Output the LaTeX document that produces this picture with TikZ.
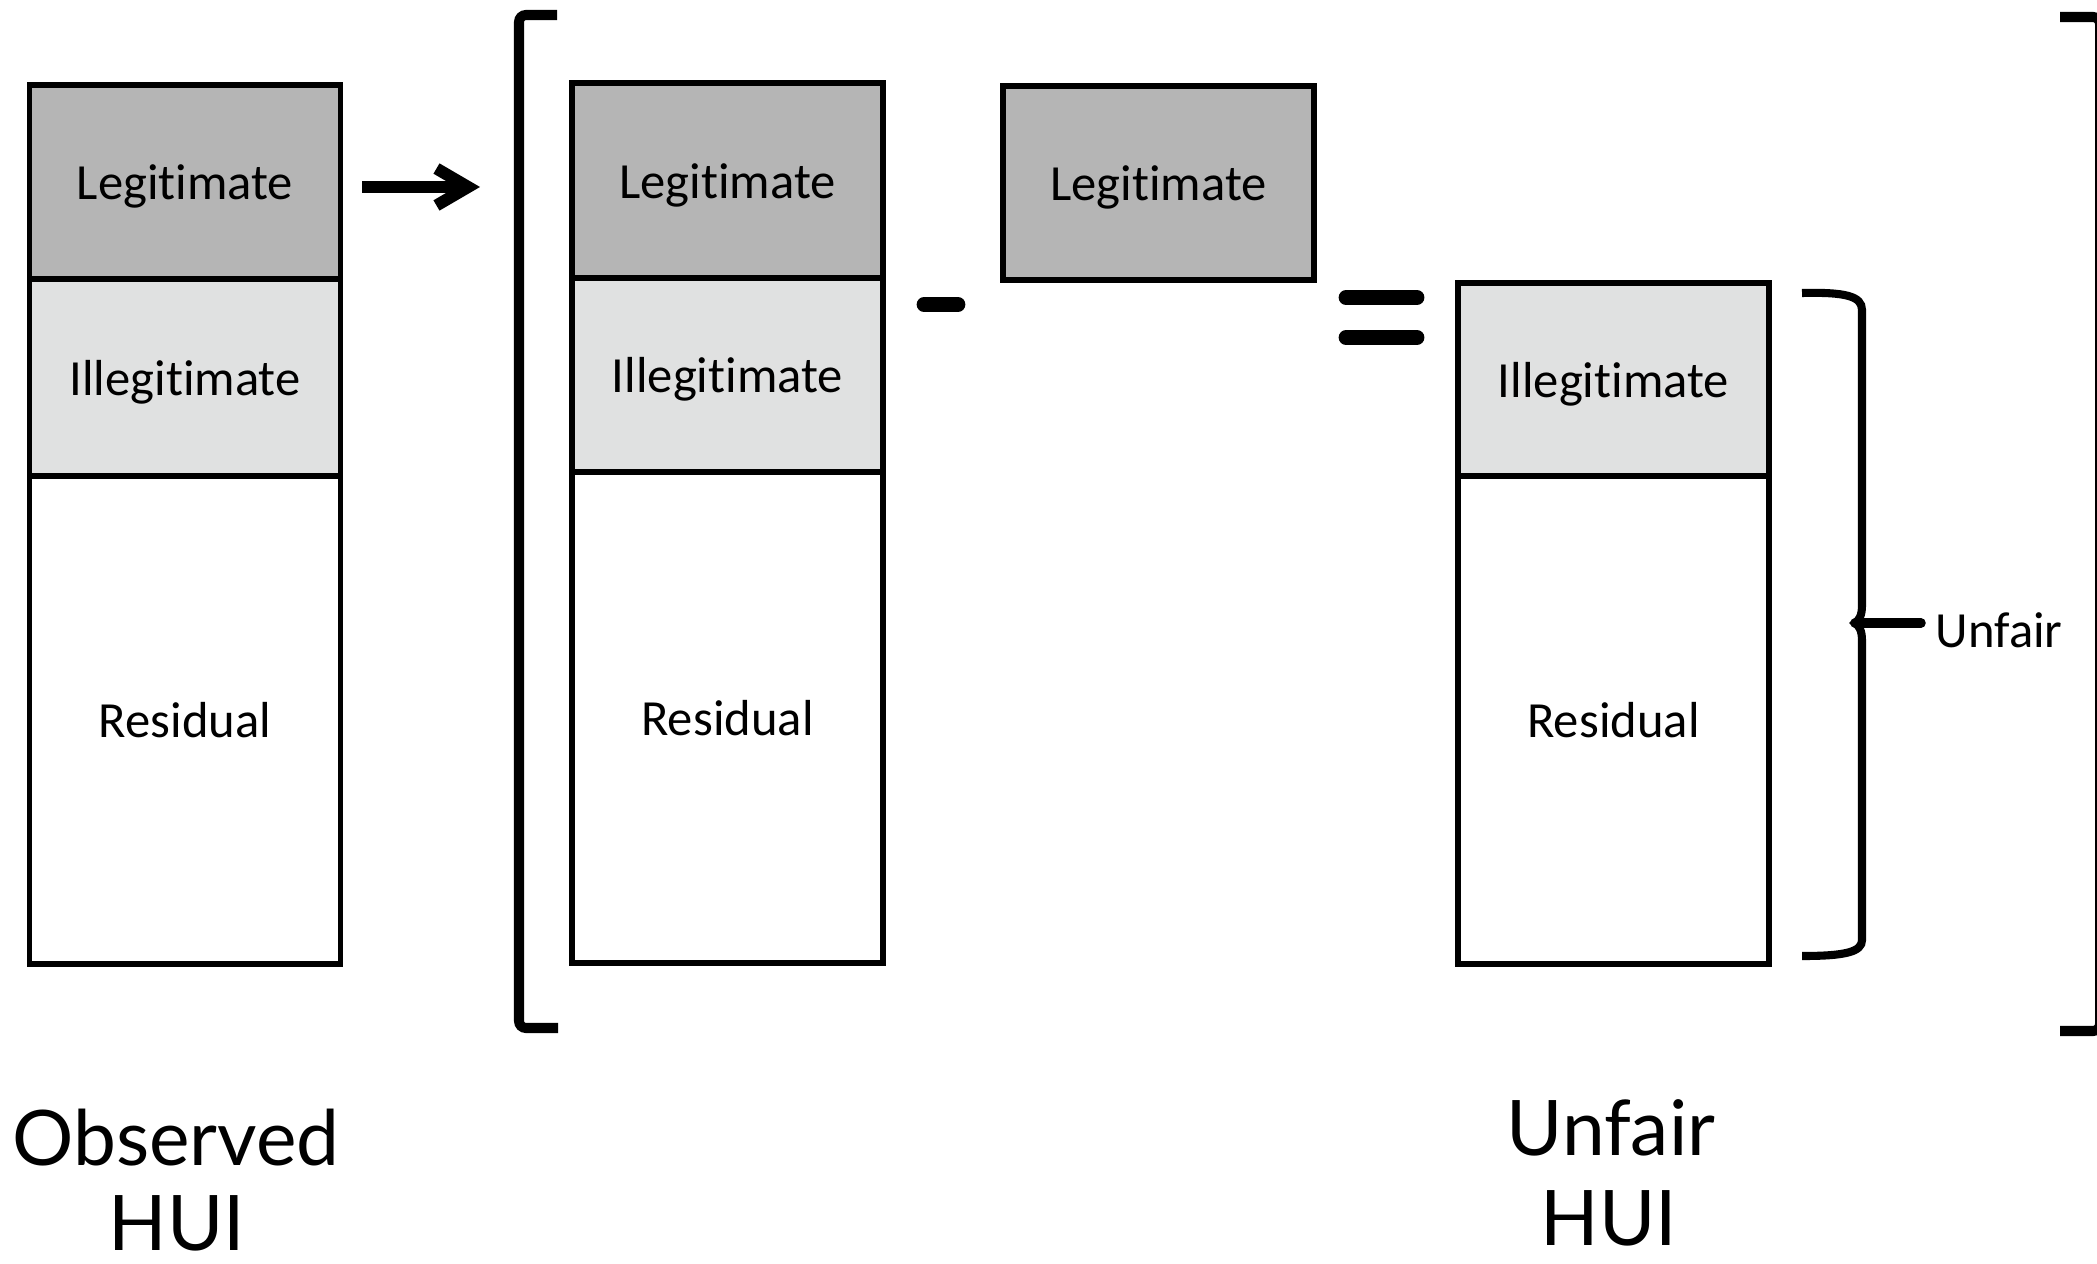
\documentclass[tikz,border=0pt]{standalone}
\usepackage{fontspec}
\setmainfont[Ligatures=NoCommon]{Carlito}
\newfontfamily\gillfont{Lato}
\usetikzlibrary{arrows.meta}
\definecolor{legitgray}{RGB}{181,181,181}
\definecolor{illegray}{RGB}{224,225,225}
\begin{document}
\begin{tikzpicture}[x=0.01cm,y=-0.01cm,
  seg/.style={draw=black, line width=1.6pt, rectangle, inner sep=0pt, minimum width=3.11cm, font=\fontsize{14.4}{17}\selectfont, text=black, text height=10.2pt, text depth=0pt},
  legit/.style={seg, fill=legitgray},
  illeg/.style={seg, fill=illegray},
  resid/.style={seg, fill=white},
  bracket/.style={line width=2.85pt, rounded corners=2pt},
  opbar/.style={line width=4.2pt, line cap=round},
  bracestyle/.style={line width=2.3pt},
  arrowline/.style={line width=3.4pt, -{Straight Barb[length=9pt,width=10.5pt]}},
  biglabel/.style={font=\gillfont\fontsize{21.8}{26}\selectfont, anchor=base, inner sep=0pt},
  smalllabel/.style={font=\fontsize{14.4}{17}\selectfont, anchor=base west, inner sep=0pt}]
\useasboundingbox (0,0) rectangle (2097,1264);
\fill[white] (0,0) rectangle (2097,1264);

% Observed HUI column
\node[legit, minimum height=1.94cm] (l1) at (185,182) {Legitimate};
\node[illeg, minimum height=1.97cm] (i1) at (185,377.5) {Illegitimate};
\node[resid, minimum height=4.88cm] (r1) at (185,720) {Residual};

% bracketed column
\node[legit, minimum height=1.95cm] (l2) at (727.5,180.5) {Legitimate};
\node[illeg, minimum height=1.94cm] (i2) at (727.5,375) {Illegitimate};
\node[resid, minimum height=4.91cm] (r2) at (727.5,717.5) {Residual};

% subtracted legitimate
\node[legit, minimum height=1.94cm] (l3) at (1158.5,183) {Legitimate};

% Unfair HUI column
\node[illeg, minimum height=1.93cm] (i3) at (1613.5,379.5) {Illegitimate};
\node[resid, minimum height=4.88cm] (r3) at (1613.5,720) {Residual};

% arrow
\coordinate (arrS) at (362,187);
\coordinate (arrE) at (480,187);
\draw[arrowline] (arrS) -- (arrE);

% brackets
\draw[bracket] (557,15) -- (519,15) -- (519,1028) -- (558,1028);
\draw[bracket] (2060,17) -- (2100,17) -- (2100,1031) -- (2060,1031);

% minus and equals
\draw[opbar] (924,304.5) -- (958,304.5);
\draw[opbar] (1346,297.5) -- (1417,297.5);
\draw[opbar] (1346,337.5) -- (1417,337.5);

% brace
\coordinate (bt) at (1855,623);
\draw[bracestyle] (1802,293) .. controls (1845,292) and (1862,296) .. (1862,310) -- (1862,605) .. controls (1862,616) and (1859,620) .. (bt) .. controls (1859,626) and (1862,630) .. (1862,641) -- (1862,940) .. controls (1862,952) and (1845,956) .. (1802,956);
\node[smalllabel] (unfair) at (1935,647) {Unfair};
\draw[bracestyle, line width=2.7pt, line cap=round] (bt) -- ([xshift=-0.14cm]unfair.west |- bt);

% bottom labels
\node[biglabel] (obs1) at (176,1165) {Observed};
\node[biglabel] (obs2) at (177,1250) {HUI};
\node[biglabel] (unf1) at (1611,1155) {Unfair};
\node[biglabel] (unf2) at (1609,1245) {HUI};
\end{tikzpicture}
\end{document}
